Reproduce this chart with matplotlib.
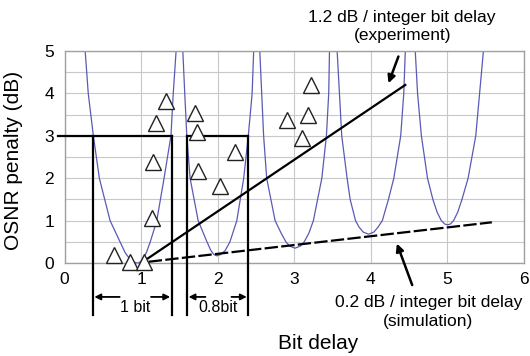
import matplotlib
matplotlib.use('Agg')
import matplotlib.pyplot as plt

plt.rcParams['font.family'] = ['Liberation Sans', 'DejaVu Sans']

# simulated penalty curves (blue), one per integer bit delay
curve1_x = [0.27, 0.31, 0.377, 0.455, 0.595, 0.725, 0.79, 0.85, 0.90, 0.95, 0.99, 1.025, 1.07, 1.12, 1.205, 1.30, 1.39, 1.42, 1.457]
curve1_y = [5, 4, 3, 2, 1, 0.5, 0.25, 0.1, 0.025, 0.0, 0.025, 0.1, 0.25, 0.5, 1, 2, 3, 4, 5]
curve2_x = [1.545, 1.57, 1.597, 1.64, 1.745, 1.86, 1.91, 1.95, 1.99, 2.04, 2.10, 2.16, 2.25, 2.34, 2.40, 2.45, 2.47]
curve2_y = [5, 4, 3, 2, 1, 0.5, 0.3, 0.2, 0.17, 0.2, 0.3, 0.5, 1, 2, 3, 4, 5]
curve3_x = [2.55, 2.575, 2.60, 2.64, 2.75, 2.83, 2.89, 2.94, 3.01, 3.08, 3.13, 3.19, 3.25, 3.36, 3.42, 3.45, 3.46]
curve3_y = [5, 4, 3, 2, 1, 0.7, 0.5, 0.4, 0.35, 0.4, 0.5, 0.7, 1, 2, 3, 4, 5]
curve4_x = [3.56, 3.59, 3.62, 3.69, 3.73, 3.80, 3.845, 3.90, 3.97, 4.04, 4.095, 4.15, 4.23, 4.30, 4.39, 4.43, 4.45]
curve4_y = [5, 4, 3, 2, 1.5, 1, 0.85, 0.73, 0.68, 0.73, 0.85, 1, 1.5, 2, 3, 4, 5]
curve5_x = [4.58, 4.61, 4.66, 4.74, 4.81, 4.865, 4.92, 4.965, 5.0, 5.04, 5.08, 5.135, 5.19, 5.27, 5.37, 5.42, 5.47]
curve5_y = [5, 4, 3, 2, 1.5, 1.2, 1.0, 0.92, 0.9, 0.92, 1.0, 1.2, 1.5, 2, 3, 4, 5]

# measured penalties (triangles)
meas_x = [0.65, 0.86, 1.04, 1.14, 1.16, 1.20, 1.33, 1.70, 1.73, 1.74, 2.03, 2.22, 2.90, 3.10, 3.18, 3.22]
meas_y = [0.20, 0.03, 0.03, 1.07, 2.39, 3.31, 3.82, 3.54, 3.08, 2.18, 1.81, 2.62, 3.37, 2.96, 3.49, 4.20]

# trend lines
exp_fit_x = [1.09, 4.45]
exp_fit_y = [0.11, 4.20]
sim_fit_x = [1.10, 5.58]
sim_fit_y = [0.03, 0.96]

# 3 dB tolerance windows
win1 = [0.37, 1.40]
win2 = [1.60, 2.40]
win_level = 3.0

fig = plt.figure(figsize=(5.3, 3.56), dpi=100)
ax = fig.add_axes([0.1217, 0.2612, 0.867, 0.5955])

blue = '#5a5ab4'
for cx, cy in [(curve1_x, curve1_y), (curve2_x, curve2_y), (curve3_x, curve3_y),
               (curve4_x, curve4_y), (curve5_x, curve5_y)]:
    ax.plot(cx, cy, color=blue, lw=0.9, zorder=2)

ax.plot(exp_fit_x, exp_fit_y, color='black', lw=1.6, zorder=3)
ax.plot(sim_fit_x, sim_fit_y, color='black', lw=1.6, ls=(0, (6, 1.5)), zorder=3)

ax.plot(meas_x, meas_y, ls='none', marker='^', ms=11, mfc='white',
        mec='#222222', mew=1.0, zorder=4, clip_on=False)

# window boxes (extend below the axes)
ybot = -1.23
ax.plot([-0.085, win1[1]], [win_level, win_level], color='black', lw=1.6, clip_on=False, zorder=3)
ax.plot([win1[0], win1[0]], [win_level, ybot], color='black', lw=1.6, clip_on=False, zorder=3)
ax.plot([win1[1], win1[1]], [win_level, ybot], color='black', lw=1.6, clip_on=False, zorder=3)
ax.plot([win2[0], win2[1]], [win_level, win_level], color='black', lw=1.6, clip_on=False, zorder=3)
ax.plot([win2[0], win2[0]], [win_level, ybot], color='black', lw=1.6, clip_on=False, zorder=3)
ax.plot([win2[1], win2[1]], [win_level, ybot], color='black', lw=1.6, clip_on=False, zorder=3)

arr = dict(arrowstyle='-|>', color='black', lw=1.3, mutation_scale=9,
           shrinkA=0, shrinkB=0)
ay = -0.80
ax.annotate('', xy=(win1[0] + 0.02, ay), xytext=(0.72, ay), arrowprops=arr, annotation_clip=False)
ax.annotate('', xy=(win1[1] - 0.02, ay), xytext=(1.13, ay), arrowprops=arr, annotation_clip=False)
ax.annotate('', xy=(win2[0] + 0.02, ay), xytext=(1.84, ay), arrowprops=arr, annotation_clip=False)
ax.annotate('', xy=(win2[1] - 0.02, ay), xytext=(2.18, ay), arrowprops=arr, annotation_clip=False)
ax.text(0.92, -1.04, '1 bit', ha='center', va='center', fontsize=11.5)
ax.text(2.0, -1.04, '0.8bit', ha='center', va='center', fontsize=11.5)

# slope annotations
arr2 = dict(arrowstyle='-|>', color='black', lw=1.8, mutation_scale=11,
            shrinkA=0, shrinkB=0)
ax.annotate('', xy=(4.23, 4.24), xytext=(4.36, 4.87), arrowprops=arr2, annotation_clip=False)
ax.annotate('', xy=(4.34, 0.46), xytext=(4.54, -0.52), arrowprops=arr2, annotation_clip=False)
ax.text(4.41, 5.78, '1.2 dB / integer bit delay', ha='center', va='center', fontsize=12.5, clip_on=False)
ax.text(4.41, 5.36, '(experiment)', ha='center', va='center', fontsize=12.5, clip_on=False)
ax.text(4.75, -0.94, '0.2 dB / integer bit delay', ha='center', va='center', fontsize=12.5, clip_on=False)
ax.text(4.75, -1.39, '(simulation)', ha='center', va='center', fontsize=12.5, clip_on=False)

ax.set_xlim(0, 6)
ax.set_ylim(0, 5)
ax.set_xticks(range(0, 7))
ax.set_yticks(range(0, 6))
ax.set_yticks([i * 0.5 for i in range(11)], minor=True)
ax.grid(True, which='major', color='#c8c8c8', lw=0.8)
ax.grid(True, which='minor', axis='y', color='#c8c8c8', lw=0.8)
ax.tick_params(which='both', length=0, labelsize=12.5)
ax.tick_params(axis='y', pad=7.5)
ax.tick_params(axis='x', pad=6.5)
ax.set_axisbelow(True)
for s in ax.spines.values():
    s.set_color('#a0a0a0')
    s.set_linewidth(1.0)

ax.text(3.31, -1.89, 'Bit delay', ha='center', va='center', fontsize=15)
fig.text(14 / 530, 1 - 160 / 356, 'OSNR penalty (dB)', rotation=90,
         ha='center', va='center', fontsize=15)

fig.savefig('out.png', dpi=100)
